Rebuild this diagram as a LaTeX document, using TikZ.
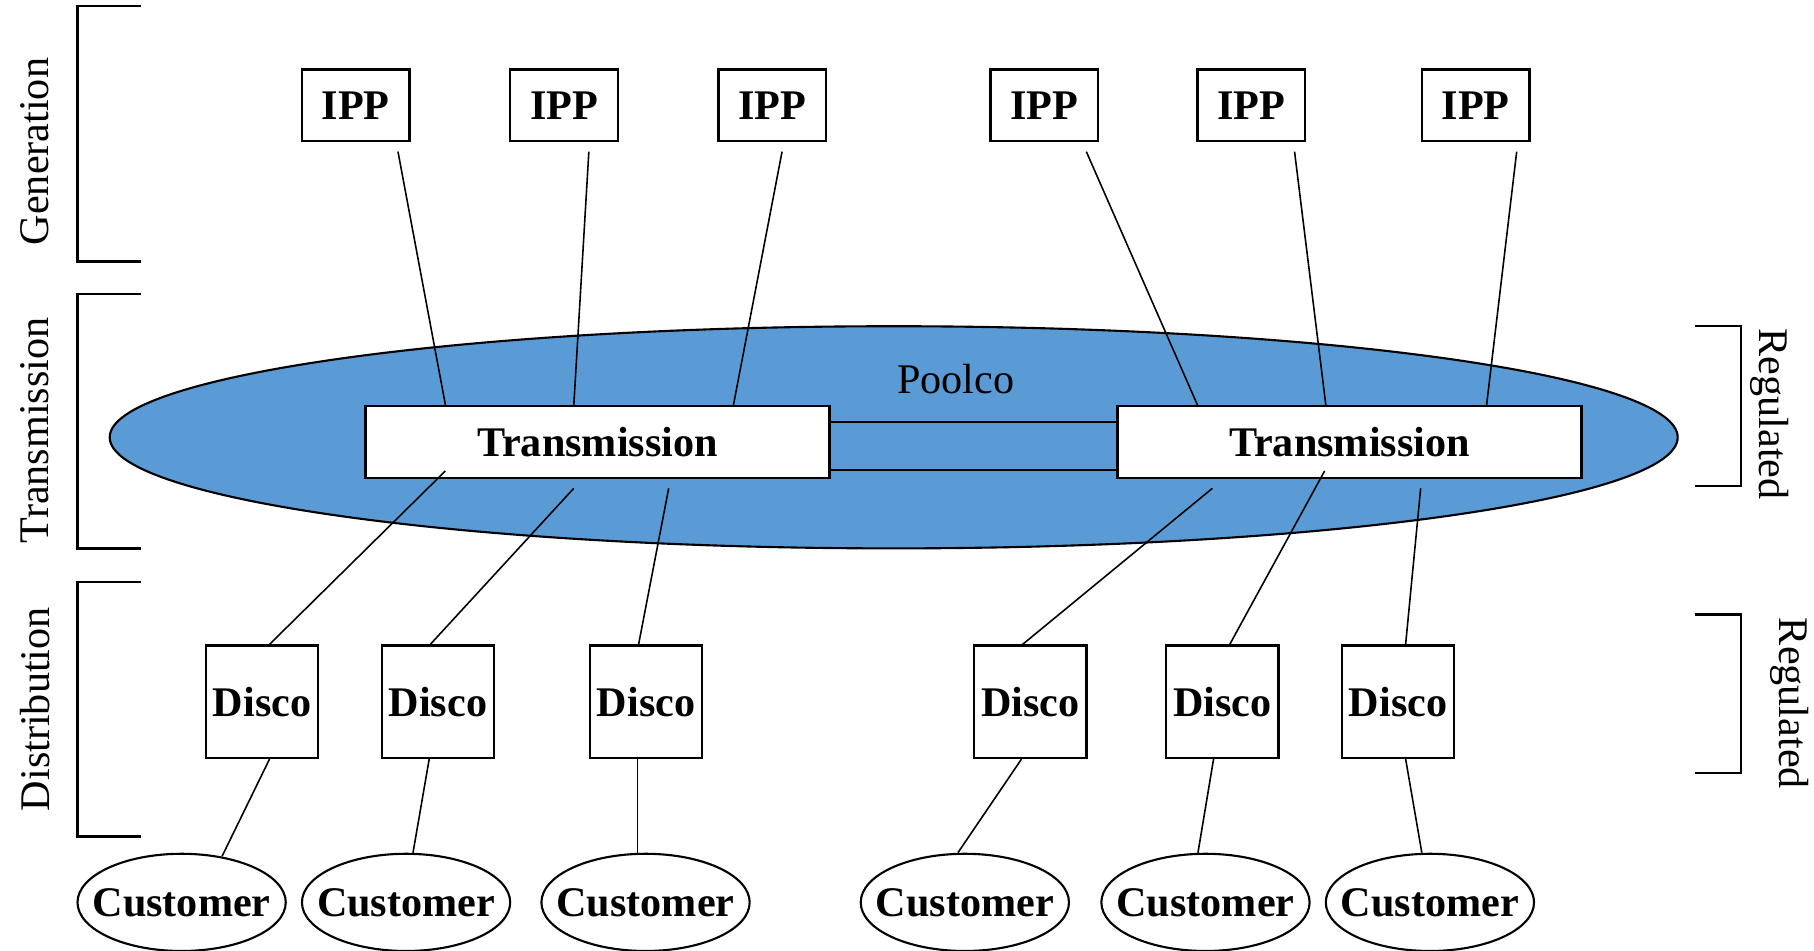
\documentclass[tikz,border=0pt]{standalone}
\usepackage{fontspec}
\setmainfont{Liberation Serif}
\usetikzlibrary{shapes.geometric,calc}
\definecolor{poolblue}{RGB}{91,155,213}
\tikzset{
  basefont/.style={font=\fontsize{12}{14}\selectfont},
  boldfont/.style={font=\fontsize{12}{14}\selectfont\bfseries},
  ipp/.style={draw, line width=0.7pt, fill=white, inner sep=0pt, minimum width=1.076cm, minimum height=0.717cm, boldfont},
  trans/.style={draw, line width=0.7pt, fill=white, inner sep=0pt, minimum width=4.639cm, minimum height=0.717cm, boldfont},
  disco/.style={draw, line width=0.7pt, fill=white, inner sep=0pt, minimum width=1.122cm, minimum height=1.122cm, boldfont},
  cust/.style={draw, ellipse, line width=0.6pt, fill=white, inner sep=0pt, minimum width=2.082cm, minimum height=0.972cm,
    label={[boldfont, inner sep=0pt]center:Customer}},
  conn/.style={line width=0.45pt},
  brk/.style={line width=0.7pt},
  lbl/.style={inner sep=0pt, basefont}
}
\begin{document}
\begin{tikzpicture}[x=0.011569cm, y=-0.011569cm]
\useasboundingbox (0,0) rectangle (1568,822);
% brackets left
\draw[brk] (122,5) -- (67,5) -- (67,226) -- (122,226);
\draw[brk] (122,254) -- (67,254) -- (67,474) -- (122,474);
\draw[brk] (122,503) -- (67,503) -- (67,723) -- (122,723);
\node[lbl, rotate=90] (lgen) at (30,131) {Generation};
\node[lbl, rotate=90] (ltra) at (30,372) {Transmission};
\node[lbl, rotate=90] (ldis) at (30,613) {Distribution};
% brackets right
\draw[brk] (1465,282) -- (1505,282) -- (1505,420) -- (1465,420);
\draw[brk] (1465,531) -- (1505,531) -- (1505,668) -- (1465,668);
\node[lbl, rotate=-90] (reg1) at (1530,358) {Regulated};
\node[lbl, rotate=-90] (reg2) at (1547,608) {Regulated};
% poolco
\node[draw, ellipse, fill=poolblue, line width=0.6pt, inner sep=0pt, minimum width=15.676cm, minimum height=2.221cm] (pool) at (772.5,378) {};
\node[lbl] (poolname) at (826,328) {Poolco};
% transmission
\node[trans] (tl) at (516.5,382) {Transmission};
\node[trans] (tr) at (1166.5,382) {Transmission};
\draw[conn] ($(tl.east)+(0,-17)$) -- ($(tr.west)+(0,-17)$);
\draw[conn] ($(tl.east)+(0,24)$) -- ($(tr.west)+(0,24)$);
% IPPs
\node[ipp] (ipp1) at (307.5,91) {IPP};
\node[ipp] (ipp2) at (487.5,91) {IPP};
\node[ipp] (ipp3) at (667.5,91) {IPP};
\node[ipp] (ipp4) at (902.5,91) {IPP};
\node[ipp] (ipp5) at (1081.5,91) {IPP};
\node[ipp] (ipp6) at (1275.5,91) {IPP};
\draw[conn] ($(ipp1.south)+(36.5,8)$) -- ($(tl.north)+(-131.5,0)$);
\draw[conn] ($(ipp2.south)+(21.5,8)$) -- ($(tl.north)+(-20.5,0)$);
\draw[conn] ($(ipp3.south)+(8.5,8)$) -- ($(tl.north)+(117.5,0)$);
\draw[conn] ($(ipp4.south)+(36.5,8)$) -- ($(tr.north)+(-131.5,0)$);
\draw[conn] ($(ipp5.south)+(37.5,8)$) -- ($(tr.north)+(-20.5,0)$);
\draw[conn] ($(ipp6.south)+(35.5,8)$) -- ($(tr.north)+(118.5,0)$);
% Discos
\node[disco] (d1) at (226.5,606.5) {Disco};
\node[disco] (d2) at (378.5,606.5) {Disco};
\node[disco] (d3) at (558.5,606.5) {Disco};
\node[disco] (d4) at (890.5,606.5) {Disco};
\node[disco] (d5) at (1056.5,606.5) {Disco};
\node[disco] (d6) at (1208.5,606.5) {Disco};
\draw[conn] ($(tl.south)+(-131.5,-7)$) -- ($(d1.north)+(6.5,0)$);
\draw[conn] ($(tl.south)+(-20.5,8)$) -- ($(d2.north)+(-6.5,0)$);
\draw[conn] ($(tl.south)+(61.5,8)$) -- ($(d3.north)+(-6.5,0)$);
\draw[conn] ($(tr.south)+(-118.5,8)$) -- ($(d4.north)+(-6.5,0)$);
\draw[conn] ($(tr.south)+(-21.5,-7)$) -- ($(d5.north)+(6.5,0)$);
\draw[conn] ($(tr.south)+(61.5,8)$) -- ($(d6.north)+(6.5,0)$);
% Customers
\node[cust] (c1) at (157,780) {};
\node[cust] (c2) at (351,780) {};
\node[cust] (c3) at (558,780) {};
\node[cust] (c4) at (834,780) {};
\node[cust] (c5) at (1042,780) {};
\node[cust] (c6) at (1236,780) {};
\draw[conn] ($(d1.south)+(6.5,0)$) -- ($(c1.north)+(35,3)$);
\draw[conn] ($(d2.south)+(-7.5,0)$) -- ($(c2.north)+(6,0)$);
\draw[conn] ($(d3.south)+(-7.5,0)$) -- ($(c3.north)+(-7,0)$);
\draw[conn] ($(d4.south)+(-7.5,0)$) -- ($(c4.north)+(-6,0)$);
\draw[conn] ($(d5.south)+(-7.5,0)$) -- ($(c5.north)+(-6.5,0)$);
\draw[conn] ($(d6.south)+(6.5,0)$) -- ($(c6.north)+(-7,0)$);
\end{tikzpicture}
\end{document}
